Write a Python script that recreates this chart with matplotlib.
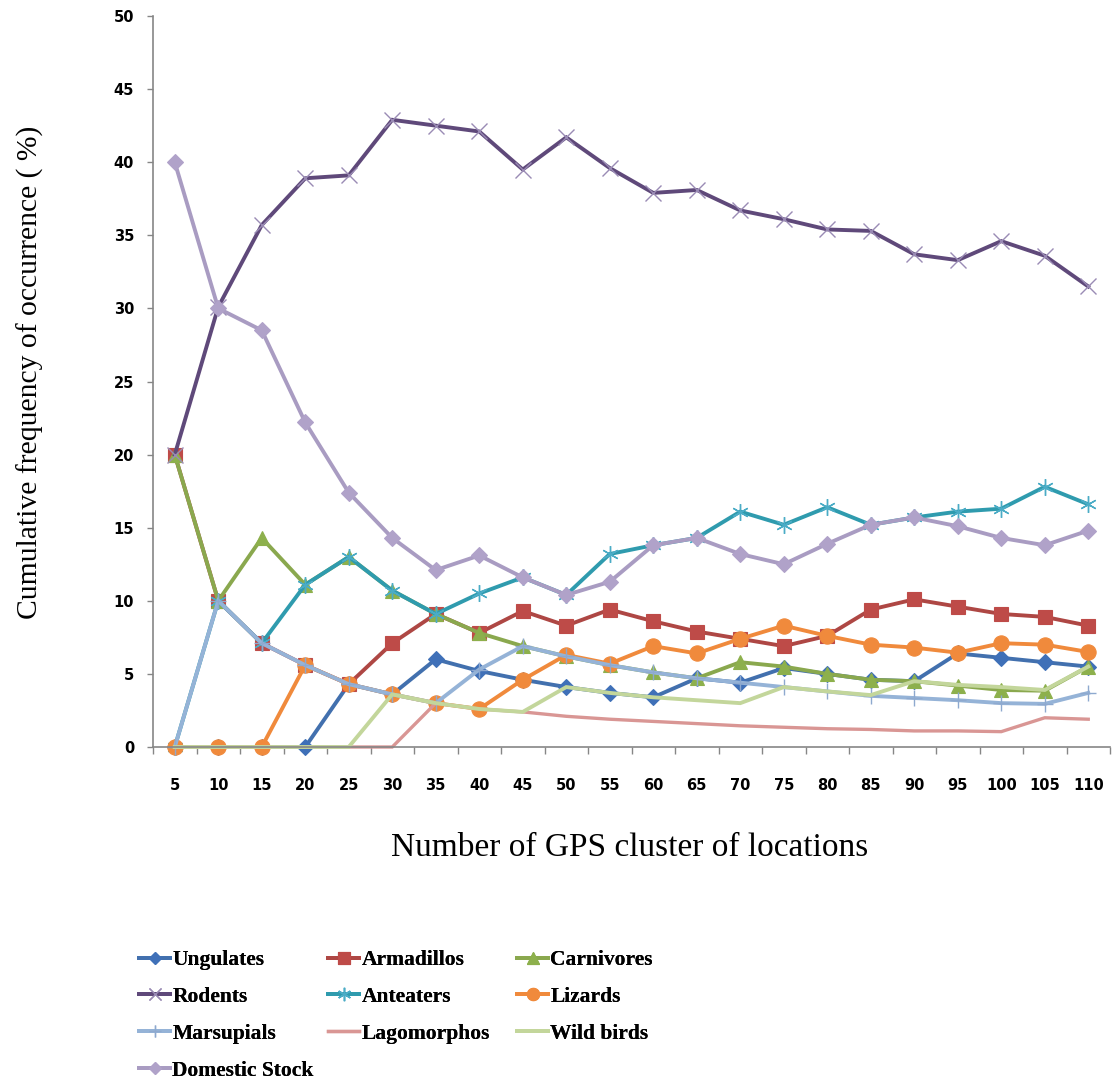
import numpy as np
import matplotlib
matplotlib.use("Agg")
import matplotlib.pyplot as plt

# cluster sizes on the x axis
clusters = [5, 10, 15, 20, 25, 30, 35, 40, 45, 50, 55, 60, 65, 70, 75, 80, 85, 90, 95, 100, 105, 110]

ungulates = [0, 0, 0, 0, 4.3, 3.6, 6.0, 5.2, 4.6, 4.1, 3.7, 3.4, 4.7, 4.4, 5.4, 5.0, 4.6, 4.5, 6.4, 6.1, 5.8, 5.5]
armadillos = [20, 10, 7.1, 5.6, 4.3, 7.1, 9.1, 7.8, 9.3, 8.3, 9.4, 8.6, 7.9, 7.4, 6.9, 7.6, 9.4, 10.1, 9.6, 9.1, 8.9, 8.3]
carnivores = [20, 10, 14.3, 11.1, 13.0, 10.7, 9.1, 7.8, 6.9, 6.2, 5.6, 5.1, 4.7, 5.8, 5.5, 5.0, 4.6, 4.5, 4.2, 3.9, 3.85, 5.5]
rodents = [20, 30.1, 35.7, 38.9, 39.1, 42.9, 42.5, 42.1, 39.5, 41.7, 39.6, 37.9, 38.1, 36.7, 36.1, 35.4, 35.3, 33.7, 33.3, 34.6, 33.6, 31.5]
anteaters = [0, 10, 7.1, 11.1, 13.0, 10.7, 9.1, 10.5, 11.6, 10.4, 13.2, 13.8, 14.3, 16.1, 15.2, 16.4, 15.2, 15.7, 16.1, 16.3, 17.8, 16.6]
lizards = [0, 0, 0, 5.6, 4.3, 3.6, 3.0, 2.6, 4.6, 6.3, 5.7, 6.9, 6.4, 7.4, 8.3, 7.6, 7.0, 6.8, 6.45, 7.1, 7.0, 6.5]
marsupials = [0, 10, 7.1, 5.6, 4.3, 3.6, 3.0, 5.3, 6.9, 6.2, 5.6, 5.1, 4.7, 4.4, 4.1, 3.8, 3.5, 3.35, 3.2, 3.0, 2.95, 3.7]
lagomorphos = [0, 0, 0, 0, 0, 0, 3.0, 2.6, 2.4, 2.1, 1.9, 1.75, 1.6, 1.45, 1.35, 1.25, 1.2, 1.1, 1.1, 1.05, 2.0, 1.9]
wild_birds = [0, 0, 0, 0, 0, 3.6, 3.0, 2.6, 2.4, 4.1, 3.7, 3.4, 3.2, 3.0, 4.1, 3.8, 3.55, 4.5, 4.25, 4.1, 3.9, 5.5]
domestic = [40, 30, 28.5, 22.2, 17.4, 14.3, 12.1, 13.1, 11.6, 10.4, 11.3, 13.8, 14.3, 13.2, 12.5, 13.9, 15.2, 15.7, 15.1, 14.3, 13.8, 14.8]

# name, values, line colour, marker, marker colour, marker size, line width
series = [
    ("Ungulates", ungulates, "#4270AE", "D", "#3F70B8", 8, 2.8),
    ("Armadillos", armadillos, "#AE4744", "s", "#BE4B48", 10, 2.8),
    ("Carnivores", carnivores, "#8AA84E", "^", "#8DB04C", 10, 2.8),
    ("Rodents", rodents, "#5F497A", "x", "#9A8BB5", 11, 2.8),
    ("Anteaters", anteaters, "#2F9BAE", (6, 2, 0), "#4BACC6", 12, 2.8),
    ("Lizards", lizards, "#F08A3C", "o", "#F08A3C", 11, 2.8),
    ("Marsupials", marsupials, "#95B3D7", "+", "#8EA9CF", 11, 2.8),
    ("Lagomorphos", lagomorphos, "#D99694", None, "#D99694", 0, 2.4),
    ("Wild birds", wild_birds, "#C3D69B", None, "#C3D69B", 0, 2.8),
    ("Domestic Stock", domestic, "#A99CC2", "D", "#B0A2C9", 8, 2.8),
]

fig = plt.figure(figsize=(11.14, 10.83), dpi=100)
ax = fig.add_axes([153 / 1114, 1 - 747 / 1083, (1110 - 153) / 1114, (747 - 16) / 1083])

idx = np.arange(len(clusters))
handles = []
for name, vals, lc, mk, mc, ms, lw in series:
    mew = 1.0 if mk in ("x", "+", (6, 2, 0)) else 0.8
    h, = ax.plot(idx, vals, color=lc, lw=lw, marker=mk, markersize=ms,
                 markerfacecolor=mc, markeredgecolor=mc, markeredgewidth=mew,
                 label=name, clip_on=False, solid_joinstyle="miter")
    handles.append(h)

ax.set_xlim(-0.5, len(clusters) - 0.5)
ax.set_ylim(0, 50)
ax.set_yticks(np.arange(0, 51, 5))
ax.set_xticks(idx)
ax.set_xticklabels([str(c) for c in clusters])
ax.set_xticks(np.arange(-0.5, len(clusters), 1), minor=True)
ax.tick_params(axis="x", which="major", length=0, pad=22)
ax.tick_params(axis="x", which="minor", length=5, color="#868686", width=1)
ax.tick_params(axis="y", length=4.5, color="#868686", width=1, pad=9)
for lab in ax.get_xticklabels() + ax.get_yticklabels():
    lab.set_fontsize(10.5)
    lab.set_fontweight("bold")
for s in ("top", "right"):
    ax.spines[s].set_visible(False)
for s in ("left", "bottom"):
    ax.spines[s].set_color("#868686")
    ax.spines[s].set_linewidth(1.2)

fig.text(630 / 1114, 1 - 848 / 1083, "Number of GPS cluster of locations",
         fontsize=24, family="Liberation Serif", ha="center", va="center")
fig.text(30 / 1114, 1 - 372 / 1083, "Cumulative frequency of occurrence ( %)",
         fontsize=21.3, family="Liberation Serif", ha="center", va="center", rotation=90)

# legend: three columns placed separately, like the Excel layout
cols = [([0, 3, 6, 9], 139), ([1, 4, 7], 328), ([2, 5, 8], 517)]
for members, x0 in cols:
    leg = fig.legend([handles[i] for i in members], [series[i][0] for i in members],
                     loc="upper left", bbox_to_anchor=(x0 / 1114, 1 - 950 / 1083),
                     frameon=False, borderpad=0, borderaxespad=0, handlelength=1.45,
                     handletextpad=0.1, labelspacing=0.78, markerscale=0.8,
                     prop={"family": "Liberation Serif", "weight": "bold", "size": 15.5})
    fig.add_artist(leg)

fig.savefig("out.png", dpi=100)
